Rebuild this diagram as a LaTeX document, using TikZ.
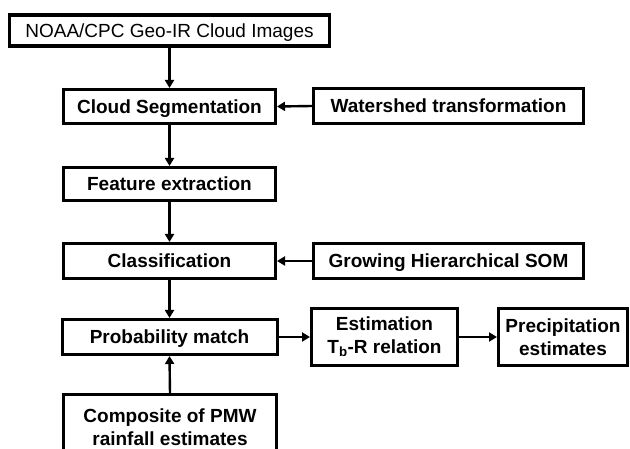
\documentclass[tikz,border=0pt]{standalone}
\usepackage{fontspec}
\setmainfont{Liberation Sans}
\usetikzlibrary{arrows.meta}
\begin{document}
\begin{tikzpicture}[x=1pt,y=-1pt,
  box/.style={draw,line width=3pt,inner sep=0pt,align=center,
    font=\fontsize{19}{22.5}\selectfont\bfseries},
  onebox/.style={box,text height=16pt,text depth=2.3pt},
  arr/.style={line width=2.4pt,-{Triangle[length=8pt,width=9pt]}}]
\useasboundingbox (0,0) rectangle (630,449);
\clip (0,0) rectangle (630,449);
\node[onebox,font=\fontsize{19}{22.5}\selectfont,line width=3.3pt,minimum width=320pt,minimum height=31pt] (noaa) at (169.5,30.5) {NOAA/CPC Geo-IR Cloud Images};
\node[onebox,minimum width=212pt,minimum height=34pt] (seg) at (169.5,106.5) {Cloud Segmentation};
\node[onebox,minimum width=212pt,minimum height=33pt] (feat) at (169.5,184) {Feature extraction};
\node[onebox,minimum width=212pt,minimum height=35pt] (cls) at (169.5,261) {Classification};
\node[onebox,minimum width=215pt,minimum height=35pt] (prob) at (169.5,337) {Probability match};
\node[box,minimum width=213pt,minimum height=64pt] (comp) at (170,427) {Composite of PMW\\rainfall estimates};
\node[onebox,minimum width=270pt,minimum height=35pt] (water) at (448.5,106) {Watershed transformation};
\node[onebox,minimum width=270pt,minimum height=35pt] (ghsom) at (448.5,261) {Growing Hierarchical SOM};
\node[box,minimum width=146pt,minimum height=57pt] (est) at (384.5,337) {Estimation\\T\textsubscript{b}-R relation};
\node[box,minimum width=129pt,minimum height=57pt] (prec) at (563,337) {Precipitation\\estimates};
\draw[arr] (noaa.south) -- (seg.north);
\draw[arr] (seg.south) -- (feat.north);
\draw[arr] (feat.south) -- (cls.north);
\draw[arr] (cls.south) -- (prob.north);
\draw[arr] (comp.north) -- (prob.south);
\draw[arr] (water.west) -- (seg.east);
\draw[arr] (ghsom.west) -- (cls.east);
\draw[arr] (prob.east) -- (est.west);
\draw[arr] (est.east) -- (prec.west);
\end{tikzpicture}
\end{document}
